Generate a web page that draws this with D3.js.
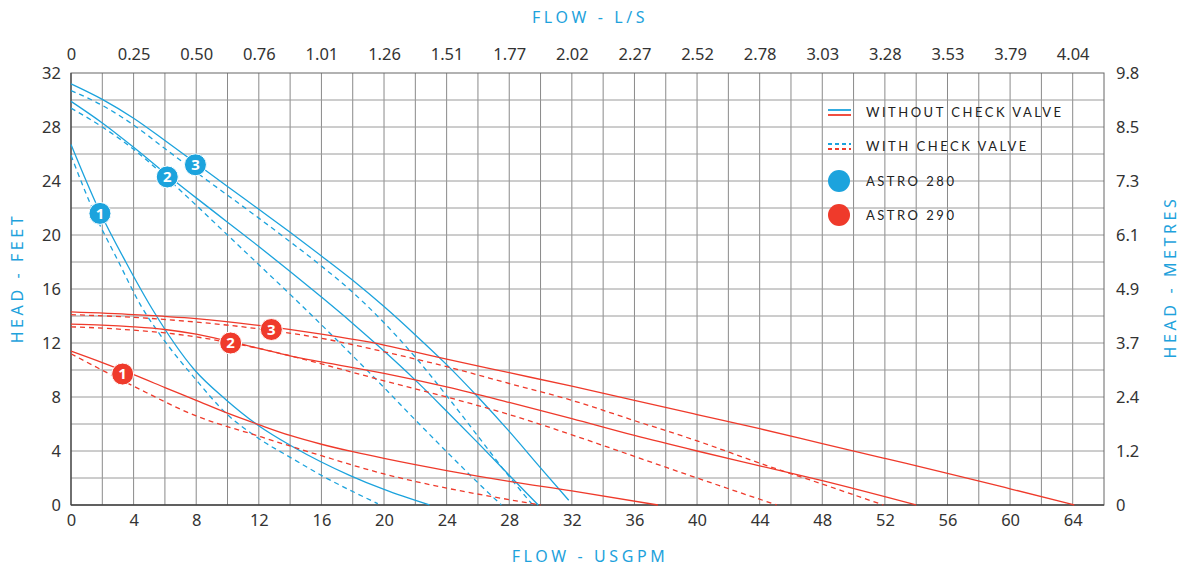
<!DOCTYPE html>
<html lang="en">
<head>
<meta charset="utf-8">
<title>Astro pump curves</title>
<script src="https://d3js.org/d3.v7.min.js"></script>
<style>
  body { margin: 0; background: #fff; }
  .title { font-family: "Noto Sans", sans-serif; font-size: 16px; fill: #1ea2dc; letter-spacing: 3.6px; }
  .legend text { font-family: Lato, sans-serif; font-size: 13px; fill: #222; letter-spacing: 2.5px; }
</style>
</head>
<body>
<script>
// ticks
var gpmTicks = [0, 4, 8, 12, 16, 20, 24, 28, 32, 36, 40, 44, 48, 52, 56, 60, 64];
var lpsLabels = ["0", "0.25", "0.50", "0.76", "1.01", "1.26", "1.51", "1.77", "2.02",
                 "2.27", "2.52", "2.78", "3.03", "3.28", "3.53", "3.79", "4.04"];
var feetTicks = [0, 4, 8, 12, 16, 20, 24, 28, 32];
var metreLabels = ["0", "1.2", "2.4", "3.7", "4.9", "6.1", "7.3", "8.5", "9.8"];

// curves: [flow USGPM, head ft]
var astro280_1 = [[0,26.7],[1.85,21.7],[3.5,18.0],[5.2,14.5],[7.9,10.0],[9.9,7.8],[11.9,5.95],[14.2,4.3],[17.8,2.2],[20,1.15],[22.9,0]];
var astro280_1cv = [[0,25.9],[1.5,21.6],[3,18.1],[4.5,14.7],[5.7,12.6],[7.9,9.4],[9.9,6.8],[11.9,5.0],[14.2,3.4],[16.3,2.0],[18,1.0],[19.6,0.1]];
var astro280_2 = [[0,29.9],[2,28.3],[4,26.5],[6.15,24.45],[8,22.75],[10,20.95],[12,19.15],[14,17.3],[16,15.4],[18,13.45],[20,11.4],[22,9.25],[24,6.95],[26,4.6],[28,2.2],[29.85,0]];
var astro280_2cv = [[0,29.4],[2,28.0],[4,26.35],[6,24.35],[8,22.2],[10,20.0],[12,17.8],[14,15.6],[16,13.35],[18,11.05],[20,8.7],[22,6.3],[24,3.95],[26,1.65],[27.5,0]];
var astro280_3 = [[0,31.2],[2,30.05],[4,28.65],[6,27.0],[8,25.3],[10,23.6],[12,21.9],[14,20.2],[16,18.45],[18,16.65],[20,14.7],[22,12.6],[24,10.4],[26,8.0],[28,5.45],[30,2.75],[31.8,0.35]];
var astro280_3cv = [[0,30.7],[2,29.6],[4,28.15],[6,26.4],[8,24.65],[10,22.95],[12,21.25],[14,19.5],[16,17.7],[18,15.75],[20,13.5],[22,10.95],[24,8.1],[26,5.1],[28,2.1],[29.5,0]];
var astro290_1 = [[0,11.4],[2,10.55],[4,9.65],[6,8.7],[8,7.75],[10,6.8],[12,5.95],[14,5.15],[16,4.5],[18,3.95],[20,3.45],[24,2.55],[28,1.75],[32,1.05],[37.5,0]];
var astro290_1cv = [[0,11.2],[4,8.8],[8,6.6],[12,5.1],[16,3.65],[20,2.3],[24,1.25],[27,0.6],[30,0]];
var astro290_2 = [[0,13.4],[2,13.33],[4,13.2],[6,13.0],[8,12.65],[10,12.15],[12,11.6],[14,11.05],[16,10.6],[20,9.75],[24,8.75],[28,7.6],[32,6.4],[36,5.15],[40,4.0],[44,2.9],[48,1.8],[54,0]];
var astro290_2cv = [[0,13.2],[2,13.1],[4,12.95],[6,12.75],[8,12.45],[10,12.05],[12,11.6],[14,11.05],[16,10.45],[20,9.2],[24,8.0],[28,6.7],[32,5.2],[36,3.6],[40,2.0],[45.1,0]];
var astro290_3 = [[0,14.3],[4,14.1],[8,13.8],[12,13.3],[16,12.65],[20,11.85],[24,10.8],[28,9.8],[32,8.8],[36,7.75],[40,6.7],[44,5.65],[48,4.55],[52,3.45],[56,2.35],[60,1.2],[64.1,0]];
var astro290_3cv = [[0,14.1],[4,13.9],[8,13.55],[12,13.05],[16,12.35],[20,11.35],[24,10.25],[28,9.0],[32,7.75],[36,6.25],[40,4.75],[44,3.1],[48,1.55],[51.9,0]];

// marker numbers sit on the solid curves
var markers280 = [[1.85,21.6,"1"],[6.15,24.3,"2"],[7.95,25.2,"3"]];
var markers290 = [[3.3,9.7,"1"],[10.2,12.0,"2"],[12.8,13.0,"3"]];

var blue = "#1ca3dd", red = "#ef3a2b";

var width = 1180, height = 569,
    plot = {left: 71, right: 1104, top: 73, bottom: 505};

var x = d3.scaleLinear().domain([0, 66]).range([plot.left, plot.right]);
var y = d3.scaleLinear().domain([0, 32]).range([plot.bottom, plot.top]);

var svg = d3.select("body").append("svg")
    .attr("width", width)
    .attr("height", height);

// grid every 2 units
var grid = svg.append("g");
grid.selectAll("line.v")
    .data(d3.range(2, 66, 2))
    .enter().append("line")
    .attr("class", "v")
    .attr("x1", function(d) { return x(d); })
    .attr("x2", function(d) { return x(d); })
    .attr("y1", plot.top).attr("y2", plot.bottom)
    .style("stroke", "#8a8a8a").style("stroke-width", 1);
grid.selectAll("line.h")
    .data(d3.range(2, 32, 2))
    .enter().append("line")
    .attr("class", "h")
    .attr("y1", function(d) { return y(d); })
    .attr("y2", function(d) { return y(d); })
    .attr("x1", plot.left).attr("x2", plot.right)
    .style("stroke", "#9a9a9a").style("stroke-width", 1);

svg.append("rect")
    .attr("x", plot.left).attr("y", plot.top)
    .attr("width", plot.right - plot.left).attr("height", plot.bottom - plot.top)
    .style("fill", "none").style("stroke", "#666").style("stroke-width", 1);
svg.append("line")
    .attr("x1", plot.left).attr("x2", plot.right).attr("y1", plot.bottom).attr("y2", plot.bottom)
    .style("stroke", "#444").style("stroke-width", 1.5);
svg.append("line")
    .attr("x1", plot.left).attr("x2", plot.left).attr("y1", plot.top).attr("y2", plot.bottom)
    .style("stroke", "#444").style("stroke-width", 1.2);

// axes
var axisBottom = d3.axisBottom(x).tickValues(gpmTicks).tickSize(0).tickPadding(9);
var axisTop = d3.axisTop(x).tickValues(gpmTicks).tickSize(0).tickPadding(13)
    .tickFormat(function(d, i) { return lpsLabels[i]; });
var axisLeft = d3.axisLeft(y).tickValues(feetTicks).tickSize(0).tickPadding(10);
var axisRight = d3.axisRight(y).tickValues(feetTicks).tickSize(0).tickPadding(12)
    .tickFormat(function(d, i) { return metreLabels[i]; });

function noDomain(g) { g.select(".domain").remove(); }
svg.append("g").attr("transform", "translate(0," + plot.bottom + ")").call(axisBottom).call(noDomain);
svg.append("g").attr("transform", "translate(0," + plot.top + ")").call(axisTop).call(noDomain);
svg.append("g").attr("transform", "translate(" + plot.left + ",0)").call(axisLeft).call(noDomain);
svg.append("g").attr("transform", "translate(" + plot.right + ",0)").call(axisRight).call(noDomain);
svg.selectAll(".tick text")
   .style("font-family", "'Noto Sans', sans-serif")
   .style("font-size", "16.5px")
   .style("fill", "#333");

// titles
svg.append("text").attr("class", "title")
   .attr("x", 590).attr("y", 23).attr("text-anchor", "middle").text("FLOW - L/S");
svg.append("text").attr("class", "title")
   .attr("x", 590).attr("y", 562).attr("text-anchor", "middle").text("FLOW - USGPM");
svg.append("text").attr("class", "title")
   .attr("transform", "translate(23,278) rotate(-90)")
   .attr("text-anchor", "middle").text("HEAD - FEET");
svg.append("text").attr("class", "title")
   .attr("transform", "translate(1176,277) rotate(-90)")
   .attr("text-anchor", "middle").text("HEAD - METRES");

// curves
var line = d3.line()
    .x(function(d) { return x(d[0]); })
    .y(function(d) { return y(d[1]); })
    .curve(d3.curveMonotoneX);

var curves = [
    [astro280_1, blue, false], [astro280_1cv, blue, true],
    [astro280_2, blue, false], [astro280_2cv, blue, true],
    [astro280_3, blue, false], [astro280_3cv, blue, true],
    [astro290_1, red, false], [astro290_1cv, red, true],
    [astro290_2, red, false], [astro290_2cv, red, true],
    [astro290_3, red, false], [astro290_3cv, red, true]
];

svg.append("g").selectAll("path")
    .data(curves)
    .enter().append("path")
    .attr("d", function(d) { return line(d[0]); })
    .style("fill", "none")
    .style("stroke", function(d) { return d[1]; })
    .style("stroke-width", 1.3)
    .style("stroke-dasharray", function(d) { return d[2] ? "5,4" : null; });

// numbered markers
function drawMarkers(list, color) {
    var g = svg.append("g").selectAll("g")
        .data(list)
        .enter().append("g")
        .attr("transform", function(d) { return "translate(" + x(d[0]) + "," + y(d[1]) + ")"; });
    g.append("circle")
        .attr("r", 11)
        .style("fill", color)
        .style("stroke", "#fff").style("stroke-width", 1);
    g.append("text")
        .attr("text-anchor", "middle")
        .attr("dy", "0.36em")
        .style("font-family", "'Noto Sans', sans-serif")
        .style("font-weight", "bold")
        .style("font-size", "15px")
        .style("fill", "#fff")
        .text(function(d) { return d[2]; });
}
drawMarkers(markers280, blue);
drawMarkers(markers290, red);

// legend
var legend = svg.append("g").attr("class", "legend");
legend.append("line").attr("x1", 828).attr("x2", 851).attr("y1", 110).attr("y2", 110)
      .style("stroke", blue).style("stroke-width", 1.8);
legend.append("line").attr("x1", 828).attr("x2", 851).attr("y1", 115).attr("y2", 115)
      .style("stroke", red).style("stroke-width", 1.8);
legend.append("line").attr("x1", 828).attr("x2", 851).attr("y1", 144).attr("y2", 144)
      .style("stroke", blue).style("stroke-width", 1.8).style("stroke-dasharray", "4,3");
legend.append("line").attr("x1", 828).attr("x2", 851).attr("y1", 149).attr("y2", 149)
      .style("stroke", red).style("stroke-width", 1.8).style("stroke-dasharray", "4,3");
legend.append("circle").attr("cx", 839).attr("cy", 181).attr("r", 11).style("fill", blue);
legend.append("circle").attr("cx", 839).attr("cy", 215).attr("r", 11).style("fill", red);

var legendText = ["WITHOUT CHECK VALVE", "WITH CHECK VALVE", "ASTRO 280", "ASTRO 290"];
var legendY = [112, 146, 181, 215];
legend.selectAll("text")
    .data(legendText)
    .enter().append("text")
    .attr("x", 866)
    .attr("y", function(d, i) { return legendY[i]; })
    .attr("dy", "0.36em")
    .text(function(d) { return d; });
</script>
</body>
</html>
